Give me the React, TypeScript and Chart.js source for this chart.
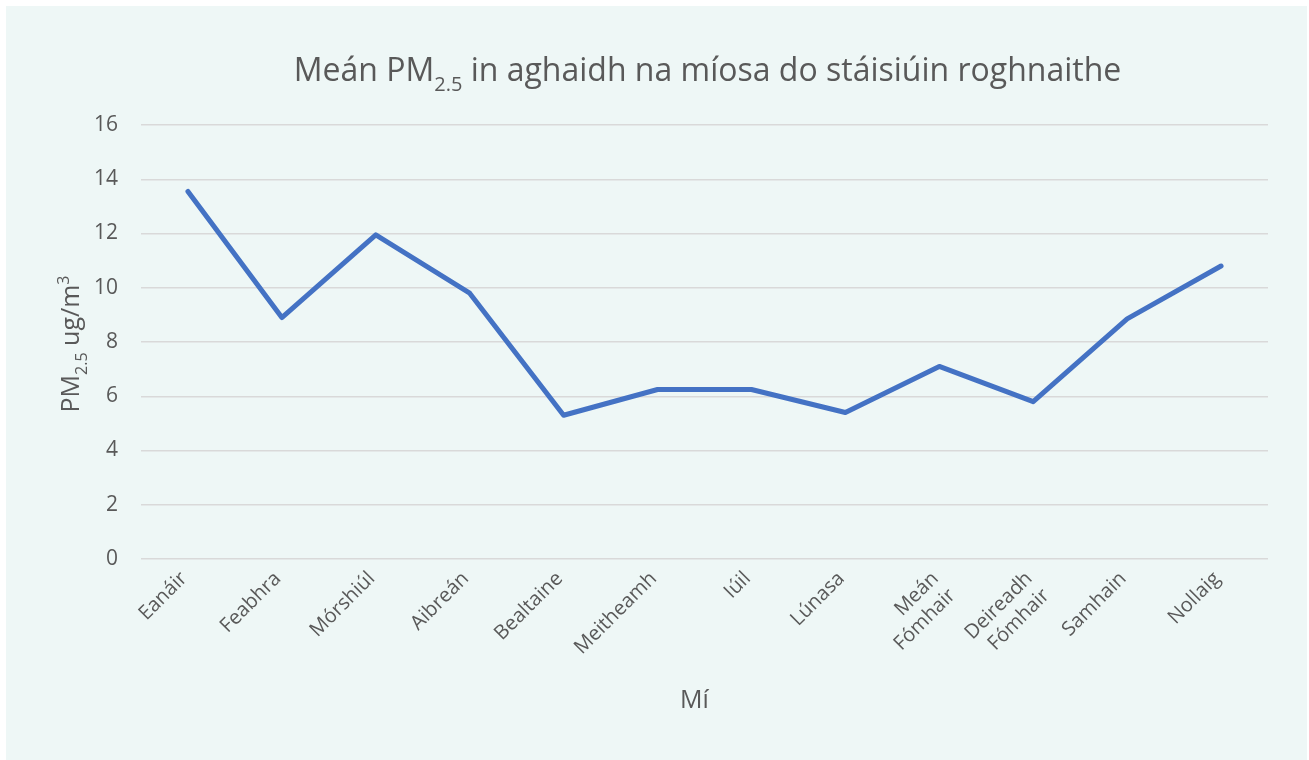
import React, { useEffect, useRef } from "react";
import { Chart, registerables } from "chart.js";

Chart.register(...registerables);

// ---- data ----
const monthLabels: (string | string[])[] = [
  "Eanáir",
  "Feabhra",
  "Mórshiúl",
  "Aibreán",
  "Bealtaine",
  "Meitheamh",
  "Iúil",
  "Lúnasa",
  ["Meán", "Fómhair"],
  ["Deireadh", "Fómhair"],
  "Samhain",
  "Nollaig",
];
const pm25Values = [13.55, 8.9, 11.95, 9.8, 5.3, 6.25, 6.25, 5.4, 7.1, 5.8, 8.85, 10.8];
const yMin = 0;
const yMax = 16;
const yStep = 2;

type Part = { text: string; kind: "n" | "sub" | "sup" };
const titleParts: Part[] = [
  { text: "Meán PM", kind: "n" },
  { text: "2.5", kind: "sub" },
  { text: " in aghaidh na míosa do stáisiúin roghnaithe", kind: "n" },
];
const yTitleParts: Part[] = [
  { text: "PM", kind: "n" },
  { text: "2.5", kind: "sub" },
  { text: " ug/m", kind: "n" },
  { text: "3", kind: "sup" },
];
const xTitle = "Mí";

// ---- styling ----
const FONT = "'Open Sans', 'Noto Sans', sans-serif";
const TEXT_COLOR = "#595959";
const GRID_COLOR = "#d9d9d9";
const LINE_COLOR = "#4472c4";
const PANEL_BG = "#eef7f6";

function drawRich(ctx: CanvasRenderingContext2D, parts: Part[], size: number) {
  const small = Math.round(size * 0.62);
  const widths = parts.map((p) => {
    ctx.font = `${p.kind === "n" ? size : small}px ${FONT}`;
    return ctx.measureText(p.text).width;
  });
  const total = widths.reduce((a, b) => a + b, 0);
  let x = -total / 2;
  ctx.textAlign = "left";
  ctx.textBaseline = "alphabetic";
  parts.forEach((p, i) => {
    ctx.font = `${p.kind === "n" ? size : small}px ${FONT}`;
    const dy = p.kind === "sub" ? size * 0.3 : p.kind === "sup" ? -size * 0.42 : 0;
    ctx.fillText(p.text, x, dy);
    x += widths[i];
  });
}

const textPlugin = {
  id: "richTexts",
  afterDraw(chart: any) {
    const ctx: CanvasRenderingContext2D = chart.ctx;
    const area = chart.chartArea;
    ctx.save();
    ctx.fillStyle = TEXT_COLOR;
    // main title
    ctx.save();
    ctx.translate((area.left + area.right) / 2 + 3, 75);
    drawRich(ctx, titleParts, 32);
    ctx.restore();
    // y title
    ctx.save();
    ctx.translate(73, (area.top + area.bottom) / 2 + 2);
    ctx.rotate(-Math.PI / 2);
    drawRich(ctx, yTitleParts, 25);
    ctx.restore();
    // x title
    ctx.save();
    ctx.translate((area.left + area.right) / 2 - 10, 702);
    drawRich(ctx, [{ text: xTitle, kind: "n" }], 25);
    ctx.restore();
    ctx.restore();
  },
};

export default function App() {
  const canvasRef = useRef<HTMLCanvasElement | null>(null);

  useEffect(() => {
    if (!canvasRef.current) return;
    const chart = new Chart(canvasRef.current, {
      type: "line",
      data: {
        labels: monthLabels,
        datasets: [
          {
            data: pm25Values,
            borderColor: LINE_COLOR,
            backgroundColor: LINE_COLOR,
            borderWidth: 5,
            pointRadius: 0,
            tension: 0,
            borderCapStyle: "round",
            borderJoinStyle: "round",
            fill: false,
          },
        ],
      },
      options: {
        animation: false,
        responsive: true,
        maintainAspectRatio: false,
        layout: { padding: { top: 119, right: 39, left: 0, bottom: 0 } },
        plugins: {
          legend: { display: false },
          title: { display: false },
          tooltip: { enabled: false },
        },
        scales: {
          x: {
            offset: true,
            grid: { display: false, drawTicks: false },
            border: { display: false },
            ticks: {
              autoSkip: false,
              minRotation: 45,
              maxRotation: 45,
              padding: 8,
              labelOffset: -4,
              color: TEXT_COLOR,
              font: { family: FONT, size: 20 },
            },
            afterFit(scale: any) {
              scale.height = 201;
            },
          },
          y: {
            min: yMin,
            max: yMax,
            grid: { color: GRID_COLOR, lineWidth: 1.5, drawTicks: false },
            border: { display: false },
            ticks: {
              stepSize: yStep,
              padding: 23,
              color: TEXT_COLOR,
              font: { family: FONT, size: 21 },
            },
            afterFit(scale: any) {
              scale.width = 135;
            },
          },
        },
      },
      plugins: [textPlugin],
    } as any);
    return () => chart.destroy();
  }, []);

  return (
    <div
      style={{
        position: "absolute",
        left: 6,
        top: 6,
        width: 1301,
        height: 754,
        background: PANEL_BG,
      }}
    >
      <canvas ref={canvasRef} />
    </div>
  );
}
